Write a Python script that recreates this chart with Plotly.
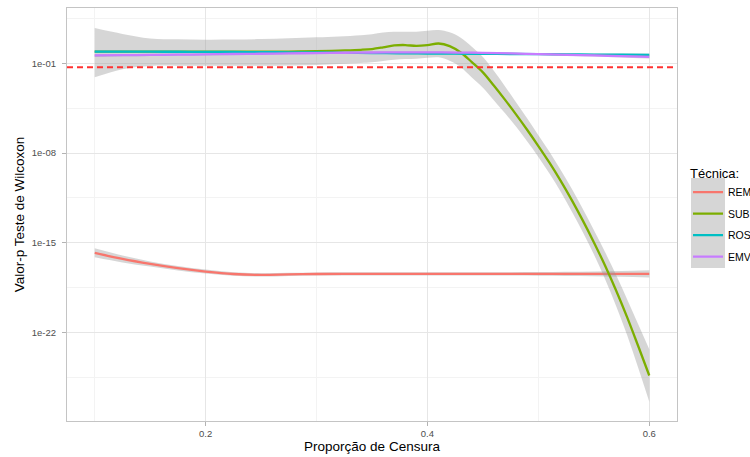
import plotly.graph_objects as go

# ---------------------------------------------------------------
# Valores-p (em log10) das curvas suavizadas por técnica
# ---------------------------------------------------------------
prop_censura = [0.100, 0.125, 0.150, 0.175, 0.200, 0.225, 0.250, 0.275, 0.300, 0.325, 0.350,
                0.375, 0.400, 0.425, 0.450, 0.475, 0.500, 0.525, 0.550, 0.575, 0.600]

rem_fit = [-15.78, -16.26, -16.65, -16.98, -17.24, -17.43, -17.50, -17.46, -17.43, -17.42, -17.42,
           -17.42, -17.42, -17.42, -17.42, -17.42, -17.42, -17.42, -17.42, -17.42, -17.42]
rem_lo = [-16.13, -16.53, -16.85, -17.15, -17.39, -17.57, -17.63, -17.58, -17.55, -17.54, -17.54,
          -17.54, -17.54, -17.54, -17.54, -17.55, -17.56, -17.58, -17.60, -17.65, -17.70]
rem_hi = [-15.43, -15.99, -16.45, -16.81, -17.09, -17.29, -17.37, -17.34, -17.31, -17.30, -17.30,
          -17.30, -17.30, -17.30, -17.30, -17.29, -17.28, -17.26, -17.24, -17.19, -17.14]

ros_fit = [-0.080, -0.085, -0.090, -0.095, -0.100, -0.110, -0.120, -0.135, -0.150, -0.175, -0.200,
           -0.215, -0.230, -0.245, -0.260, -0.270, -0.280, -0.295, -0.310, -0.320, -0.330]
ros_lo = [-0.20, -0.17, -0.16, -0.16, -0.17, -0.18, -0.19, -0.20, -0.22, -0.24, -0.27,
          -0.28, -0.30, -0.31, -0.33, -0.34, -0.35, -0.37, -0.39, -0.41, -0.44]
ros_hi = [0.04, 0.00, -0.02, -0.03, -0.03, -0.04, -0.05, -0.07, -0.08, -0.11, -0.13,
          -0.15, -0.16, -0.18, -0.19, -0.20, -0.21, -0.22, -0.23, -0.23, -0.22]

emv_fit = [-0.38, -0.36, -0.34, -0.32, -0.30, -0.27, -0.25, -0.22, -0.20, -0.17, -0.15,
           -0.14, -0.14, -0.16, -0.18, -0.22, -0.28, -0.33, -0.38, -0.44, -0.50]
emv_lo = [-0.50, -0.45, -0.42, -0.39, -0.37, -0.34, -0.32, -0.29, -0.27, -0.24, -0.22,
          -0.21, -0.21, -0.23, -0.25, -0.29, -0.35, -0.41, -0.47, -0.54, -0.62]
emv_hi = [-0.26, -0.27, -0.26, -0.25, -0.23, -0.20, -0.18, -0.15, -0.13, -0.10, -0.08,
          -0.07, -0.07, -0.09, -0.11, -0.15, -0.21, -0.25, -0.29, -0.34, -0.38]

sub_x = [0.100, 0.125, 0.150, 0.175, 0.200, 0.225, 0.250, 0.275, 0.300, 0.320, 0.340, 0.350,
         0.360, 0.370, 0.380, 0.390, 0.400, 0.410, 0.420, 0.430, 0.440, 0.450, 0.460, 0.470,
         0.480, 0.490, 0.500, 0.510, 0.520, 0.530, 0.540, 0.550, 0.560, 0.570, 0.580, 0.590, 0.600]
sub_fit = [-0.09, -0.09, -0.09, -0.09, -0.09, -0.09, -0.09, -0.08, -0.05, 0.00, 0.06, 0.12,
           0.25, 0.40, 0.43, 0.36, 0.42, 0.55, 0.35, -0.15, -0.90, -1.70, -2.75, -3.85,
           -5.00, -6.20, -7.45, -8.75, -10.15, -11.65, -13.25, -14.95, -16.75, -18.70, -20.80, -23.05, -25.35]
sub_lo = [-2.09, -1.45, -1.20, -1.18, -1.18, -1.18, -1.18, -1.16, -1.12, -1.05, -0.98, -0.92,
          -0.82, -0.72, -0.66, -0.64, -0.56, -0.53, -0.80, -1.30, -2.10, -2.90, -3.90, -4.90,
          -5.95, -7.10, -8.30, -9.60, -11.00, -12.53, -14.15, -15.90, -17.80, -19.90, -22.20, -24.75, -27.40]
sub_hi = [1.76, 1.30, 0.95, 0.88, 0.85, 0.86, 0.90, 0.96, 1.03, 1.10, 1.20, 1.28,
          1.40, 1.47, 1.47, 1.47, 1.55, 1.60, 1.42, 1.00, 0.30, -0.50, -1.60, -2.80,
          -4.05, -5.30, -6.60, -7.90, -9.30, -10.77, -12.35, -14.00, -15.70, -17.50, -19.40, -21.35, -23.30]

tecnicas = ["REM", "SUB", "ROS", "EMV"]
cores = ["#F8766D", "#7CAE00", "#00BFC4", "#C77CFF"]
nivel_signif = 0.05

y_ticks = [1e-22, 1e-15, 1e-08, 1e-01]
y_ticktext = ["1e-22", "1e-15", "1e-08", "1e-01"]
y_minor = [10 ** -25.5, 10 ** -18.5, 10 ** -11.5, 10 ** -4.5, 10 ** 2.5]
x_ticks = [0.2, 0.4, 0.6]
x_ticktext = ["0.2", "0.4", "0.6"]
x_minor = [0.1, 0.3, 0.5]


def p(vals):
    return [10 ** v for v in vals]


series = [
    (prop_censura, rem_fit, rem_lo, rem_hi),
    (sub_x, sub_fit, sub_lo, sub_hi),
    (prop_censura, ros_fit, ros_lo, ros_hi),
    (prop_censura, emv_fit, emv_lo, emv_hi),
]

FONT = "Liberation Sans, Arial, sans-serif"
RIBBON = "rgba(153,153,153,0.4)"

fig = go.Figure()
for nome, cor, (xs, fit, lo, hi) in zip(tecnicas, cores, series):
    # banda de confiança
    fig.add_trace(go.Scatter(x=xs, y=p(lo), mode="lines", line=dict(width=0, shape="spline"),
                             showlegend=False, hoverinfo="skip"))
    fig.add_trace(go.Scatter(x=xs, y=p(hi), mode="lines", line=dict(width=0, shape="spline"),
                             fill="tonexty", fillcolor=RIBBON, showlegend=False, hoverinfo="skip"))
    # curva ajustada
    fig.add_trace(go.Scatter(x=xs, y=p(fit), mode="lines", name=nome, legendgroup=nome,
                             line=dict(color=cor, width=2.3, shape="spline")))

fig.add_shape(type="line", xref="paper", x0=0, x1=1, yref="y", y0=nivel_signif, y1=nivel_signif,
              line=dict(color="#FF3030", width=1.8, dash="6px,4px"), layer="above")

# fundo cinza das chaves da legenda
fig.add_shape(type="rect", xref="paper", yref="paper",
              x0=(691 - 67) / 610, x1=(725 - 67) / 610,
              y0=(421 - 268) / 413, y1=(421 - 178) / 413,
              line=dict(width=0), fillcolor="#d6d6d6", layer="above")

axis_common = dict(
    showline=True, mirror=True, linecolor="#c4c4c4", linewidth=1,
    showgrid=True, gridcolor="#e6e6e6", gridwidth=1,
    ticks="outside", ticklen=4, tickcolor="#b3b3b3", tickwidth=1,
    tickfont=dict(family=FONT, size=9.5, color="#4d4d4d"),
    zeroline=False,
)

fig.update_xaxes(
    range=[0.075, 0.625], tickmode="array", tickvals=x_ticks, ticktext=x_ticktext,
    minor=dict(tickmode="array", tickvals=x_minor, showgrid=True, gridcolor="#f3f3f3",
               gridwidth=1, ticks=""),
    title=dict(text="Proporção de Censura", font=dict(family=FONT, size=13.5, color="#000000"),
               standoff=3),
    **axis_common,
)
fig.update_yaxes(
    type="log", range=[-28.9, 3.32], tickmode="array", tickvals=y_ticks, ticktext=y_ticktext,
    minor=dict(tickmode="array", tickvals=y_minor, showgrid=True, gridcolor="#f3f3f3",
               gridwidth=1, ticks=""),
    ticklabelstandoff=4,
    title=dict(text="Valor-p Teste de Wilcoxon", font=dict(family=FONT, size=13.5, color="#000000"),
               standoff=4),
    **axis_common,
)

fig.update_layout(
    width=750, height=457,
    margin=dict(l=67, r=73, t=8, b=36, autoexpand=False),
    paper_bgcolor="white", plot_bgcolor="white",
    font=dict(family=FONT, color="#000000"),
    legend=dict(
        title=dict(text="Técnica:", font=dict(family=FONT, size=13, color="#000000")),
        font=dict(family=FONT, size=10.5, color="#000000"),
        x=(688 - 67) / 610, xanchor="left", y=0.63, yanchor="top",
        bgcolor="rgba(0,0,0,0)", tracegroupgap=2.5,
    ),
)

fig.write_html("out.html")
